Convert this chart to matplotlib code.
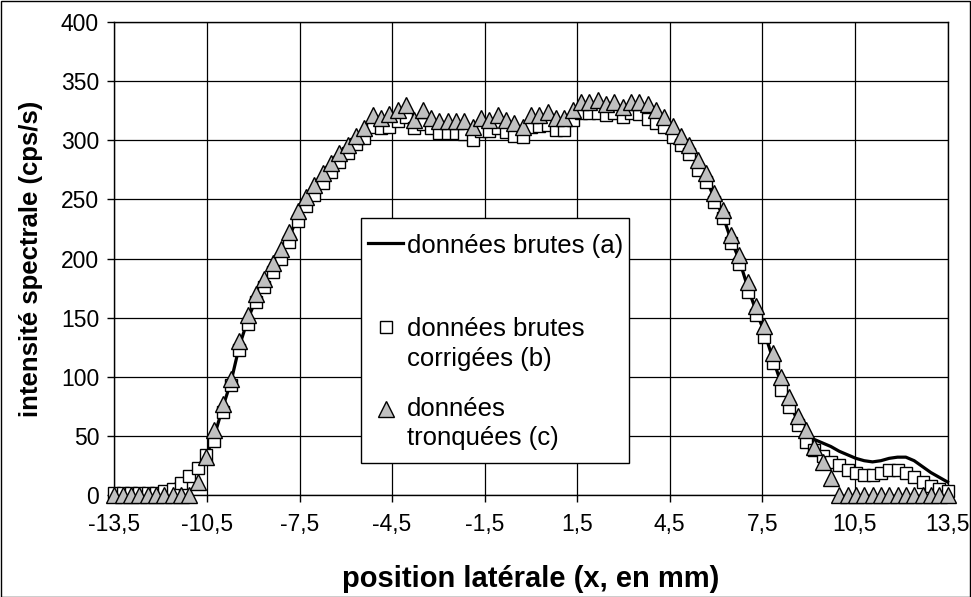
import matplotlib
matplotlib.use("Agg")
import matplotlib.pyplot as plt
from matplotlib.patches import Rectangle
from matplotlib.lines import Line2D
from matplotlib.ticker import FixedLocator

plt.rcParams['font.family'] = ['Liberation Sans', 'DejaVu Sans']

x_pos = [-13.50, -13.23, -12.96, -12.69, -12.42, -12.15, -11.88, -11.61, -11.34, -11.07,
         -10.80, -10.53, -10.26, -9.99, -9.72, -9.45, -9.18, -8.91, -8.64, -8.37,
         -8.10, -7.83, -7.56, -7.29, -7.02, -6.75, -6.48, -6.21, -5.94, -5.67,
         -5.40, -5.13, -4.86, -4.59, -4.32, -4.05, -3.78, -3.51, -3.24, -2.97,
         -2.70, -2.43, -2.16, -1.89, -1.62, -1.35, -1.08, -0.81, -0.54, -0.27,
         0.00, 0.27, 0.54, 0.81, 1.08, 1.35, 1.62, 1.89, 2.16, 2.43,
         2.70, 2.97, 3.24, 3.51, 3.78, 4.05, 4.32, 4.59, 4.86, 5.13,
         5.40, 5.67, 5.94, 6.21, 6.48, 6.75, 7.02, 7.29, 7.56, 7.83,
         8.10, 8.37, 8.64, 8.91, 9.18, 9.45, 9.72, 9.99, 10.26, 10.53,
         10.80, 11.07, 11.34, 11.61, 11.88, 12.15, 12.42, 12.69, 12.96, 13.23,
         13.50]

raw_a = [5, 5, 5, 5, 5, 5, 6, 8, 12, 17,
         24, 33, 50, 74, 96, 126, 148, 166, 179, 192,
         204, 218, 236, 248, 258, 268, 277, 285, 293, 301,
         306, 316, 315, 317, 321, 325, 314, 320, 315, 311,
         311, 311, 310, 305, 313, 312, 315, 312, 309, 307,
         316, 316, 318, 314, 314, 321, 327, 327, 328, 326,
         327, 324, 327, 327, 325, 320, 315, 307, 300, 292,
         279, 268, 251, 237, 216, 199, 176, 156, 138, 116,
         95, 78, 63, 50, 47, 44, 41, 37, 34, 31,
         29, 28, 29, 31, 32, 32, 29, 24, 19, 15,
         11]

corr_b = [2, 2, 2, 2, 2, 2, 3, 5, 10, 16,
          23, 34, 46, 70, 93, 123, 145, 163, 176, 189,
          200, 214, 232, 244, 254, 264, 273, 282, 289, 297,
          302, 311, 310, 311, 316, 320, 310, 314, 310, 306,
          306, 306, 305, 300, 308, 308, 310, 307, 304, 303,
          311, 312, 313, 309, 309, 317, 323, 323, 323, 321,
          323, 320, 323, 322, 318, 315, 311, 303, 296, 288,
          275, 265, 248, 234, 213, 195, 172, 152, 134, 112,
          89, 74, 59, 45, 38, 33, 28, 25, 21, 19,
          17, 17, 19, 21, 21, 19, 15, 11, 8, 5,
          3]

trunc_c = [0, 0, 0, 0, 0, 0, 0, 0, 0, 0,
           11, 32, 55, 77, 98, 130, 152, 170, 183, 196,
           208, 222, 240, 252, 262, 272, 281, 289, 296, 304,
           310, 321, 319, 322, 326, 330, 317, 326, 319, 316,
           316, 316, 316, 311, 319, 317, 321, 317, 315, 311,
           321, 321, 324, 319, 319, 326, 332, 332, 334, 331,
           332, 328, 332, 332, 331, 326, 320, 312, 304, 296,
           283, 272, 255, 241, 220, 203, 180, 160, 143, 120,
           100, 83, 67, 55, 41, 28, 14, 0, 0, 0,
           0, 0, 0, 0, 0, 0, 0, 0, 0, 0,
           0]

x_ticks = [-13.5, -10.5, -7.5, -4.5, -1.5, 1.5, 4.5, 7.5, 10.5, 13.5]
x_tick_labels = ['-13,5', '-10,5', '-7,5', '-4,5', '-1,5', '1,5', '4,5', '7,5', '10,5', '13,5']
y_ticks = [0, 50, 100, 150, 200, 250, 300, 350, 400]

legend_labels = ['données brutes (a)', 'données brutes\ncorrigées (b)', 'données\ntronquées (c)']

W, H = 971, 597
fig = plt.figure(figsize=(W / 100, H / 100), dpi=100)
fig.patch.set_facecolor('white')
fig.add_artist(Rectangle((0.5 / W, 0.5 / H), 1 - 1.5 / W, 1 - 1.5 / H, transform=fig.transFigure,
                         fill=False, edgecolor='black', linewidth=1))

ax_l, ax_r, ax_t, ax_b = 114.4, 947.5, 22.0, 495.0
ax = fig.add_axes([ax_l / W, 1 - ax_b / H, (ax_r - ax_l) / W, (ax_b - ax_t) / H])
ax.set_xlim(-13.5, 13.5)
ax.set_ylim(0, 400)

ax.xaxis.set_major_locator(FixedLocator(x_ticks))
ax.set_xticklabels(x_tick_labels)
ax.yaxis.set_major_locator(FixedLocator(y_ticks))
ax.grid(True, color='black', linewidth=0.9)
ax.set_axisbelow(True)
for s in ax.spines.values():
    s.set_color('black')
    s.set_linewidth(1)
ax.tick_params(axis='both', direction='out', length=5, width=1, labelsize=16.5, color='black')
ax.tick_params(axis='x', pad=8)
ax.tick_params(axis='y', pad=6)

ax.plot(x_pos, raw_a, color='black', linewidth=2.3, zorder=3, clip_on=False)
ax.plot(x_pos, corr_b, linestyle='none', marker='s', markersize=8.5, markerfacecolor='white',
        markeredgecolor='black', markeredgewidth=1.0, zorder=4, clip_on=False)
ax.plot(x_pos, trunc_c, linestyle='none', marker='^', markersize=11.5, markerfacecolor='#c0c0c0',
        markeredgecolor='black', markeredgewidth=1.0, zorder=5, clip_on=False)

ax.set_xlabel('position latérale (x, en mm)', fontsize=21, fontweight='bold', labelpad=21)
ax.set_ylabel('intensité spectrale (cps/s)', fontsize=18.5, fontweight='bold', labelpad=13)

# legend (drawn manually, Excel style)
def fx(px):
    return (px - ax_l) / (ax_r - ax_l)

def fy(py):
    return (ax_b - py) / (ax_b - ax_t)

ax.add_patch(Rectangle((fx(361), fy(463)), fx(629) - fx(361), fy(218) - fy(463), transform=ax.transAxes,
                       facecolor='white', edgecolor='black', linewidth=1, zorder=10))
ax.add_line(Line2D([fx(368), fx(403)], [fy(243), fy(243)], transform=ax.transAxes, color='black',
                   linewidth=2.3, zorder=11))
ax.add_line(Line2D([fx(386)], [fy(327)], transform=ax.transAxes, marker='s', markersize=8.5,
                   markerfacecolor='white', markeredgecolor='black', markeredgewidth=1.0, zorder=11))
ax.add_line(Line2D([fx(386)], [fy(409)], transform=ax.transAxes, marker='^', markersize=11.5,
                   markerfacecolor='#c0c0c0', markeredgecolor='black', markeredgewidth=1.0, zorder=11))
text_rows = [(legend_labels[0].split('\n'), 243), (legend_labels[1].split('\n'), 327),
             (legend_labels[2].split('\n'), 406)]
for lines, py in text_rows:
    for k, line in enumerate(lines):
        ax.text(fx(407), fy(py + 29.5 * k), line, transform=ax.transAxes, fontsize=18.5,
                va='center_baseline', ha='left', zorder=12)

fig.savefig('out.png', dpi=100)
